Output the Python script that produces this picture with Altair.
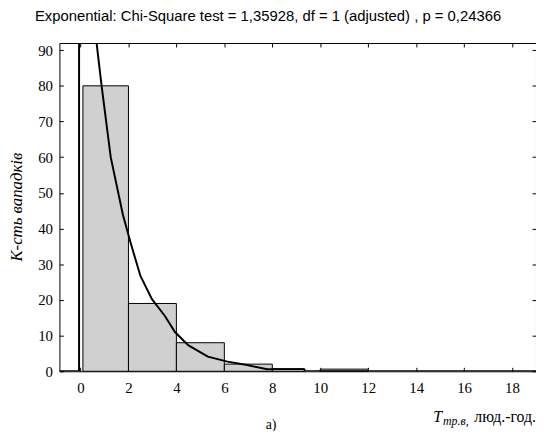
import altair as alt
import pandas as pd

# ---- data ----
bin_start = [0.1, 2, 4, 6, 8, 10]
bin_end = [2, 4, 6, 8, 9.35, 12]
counts = [80, 19, 8, 2, 0.7, 0.6]

curve_x = [-0.9, -0.06, -0.06, 0.67, 0.88, 1.26, 1.77, 2.09, 2.5, 2.98, 3.52, 3.94,
           4.49, 5.31, 6.13, 6.95, 7.78, 8.1, 9.3, 9.4, 19]
curve_y = [0, 0, 125, 92, 80, 60, 43.8, 36, 26.7, 20.2, 15.5, 11.0,
           7.3, 4.1, 2.7, 1.75, 0.55, 0.6, 0.6, 0, 0]

x_ticks = [0, 2, 4, 6, 8, 10, 12, 14, 16, 18]
y_ticks = [0, 10, 20, 30, 40, 50, 60, 70, 80, 90]

title_text = "Exponential: Chi-Square test = 1,35928, df = 1 (adjusted) , p = 0,24366"
y_title = "К-сть вападків"
x_title_main = "T"
x_title_sub = "тр.в,"
x_title_unit = "люд.-год."
panel_label = "а)"

X_DOMAIN = [-0.88, 19]
Y_DOMAIN = [0, 92]
W, H = 482, 332
SERIF = "Liberation Serif, Times New Roman, DejaVu Serif, serif"
SANS = "Liberation Sans, Arial, sans-serif"

bars_df = pd.DataFrame({"start": bin_start, "end": bin_end, "count": counts})
curve_df = pd.DataFrame({"x": curve_x, "y": curve_y, "i": list(range(len(curve_x)))})


def xsc():
    return alt.Scale(domain=X_DOMAIN, nice=False, zero=False)


def ysc():
    return alt.Scale(domain=Y_DOMAIN, nice=False, zero=False)


tick_axis = dict(labels=False, domain=False, grid=False, tickSize=4,
                 tickColor="black", tickWidth=1, title=None)

bars = alt.Chart(bars_df).mark_rect(fill="#d0d0d0", stroke="black", strokeWidth=1).encode(
    x=alt.X("start:Q", scale=xsc(), axis=alt.Axis(
        orient="bottom", values=x_ticks, ticks=False, tickSize=0, domain=False, grid=False,
        labelPadding=9, labelFont=SERIF, labelFontSize=15, labelColor="black", title=None)),
    x2="end:Q",
    y=alt.Y("count:Q", scale=ysc(), axis=alt.Axis(
        orient="left", values=y_ticks, ticks=False, tickSize=0, domain=False, grid=False,
        labelPadding=7, labelFont=SERIF, labelFontSize=15, labelColor="black", title=None)),
    y2=alt.datum(0),
)

line = alt.Chart(curve_df).mark_line(color="black", strokeWidth=2, clip=True).encode(
    x=alt.X("x:Q", scale=xsc(), axis=alt.Axis(orient="top", offset=-H, values=x_ticks, **tick_axis)),
    y=alt.Y("y:Q", scale=ysc(), axis=alt.Axis(orient="right", offset=-W, values=y_ticks, **tick_axis)),
    order="i:Q",
)

ghost = alt.Chart(curve_df).mark_line(opacity=0, clip=True).encode(
    x=alt.X("x:Q", scale=xsc(), axis=alt.Axis(orient="bottom", offset=-H, values=x_ticks, **tick_axis)),
    y=alt.Y("y:Q", scale=ysc(), axis=alt.Axis(orient="left", offset=-W, values=y_ticks, **tick_axis)),
    order="i:Q",
)


def label(text, x, y, **kw):
    return alt.Chart(pd.DataFrame({"t": [text]})).mark_text(color="black", **kw).encode(
        text="t:N", x=alt.value(x), y=alt.value(y))


t_title = label(title_text, 211, -27, font=SANS, fontSize=15, align="center", baseline="middle")
t_ytitle = label(y_title, -43, 166, font=SERIF, fontSize=17, fontStyle="italic",
                 angle=270, align="center", baseline="middle")
t_T = label(x_title_main, 378, 383, font=SERIF, fontSize=16, fontStyle="italic",
            align="left", baseline="alphabetic")
t_sub = label(x_title_sub, 388, 386, font=SERIF, fontSize=12, fontStyle="italic",
              align="left", baseline="alphabetic")
t_unit = label(x_title_unit, 482, 383, font=SERIF, fontSize=16,
               align="right", baseline="alphabetic")
t_panel = label(panel_label, 214, 390, font=SERIF, fontSize=14,
                align="center", baseline="alphabetic")

chart = alt.layer(
    bars, line, ghost, t_title, t_ytitle, t_T, t_sub, t_unit, t_panel
).resolve_scale(
    x="independent", y="independent"
).properties(
    width=W, height=H,
    padding={"left": 52, "top": 33, "right": 0, "bottom": 58},
    autosize=alt.AutoSizeParams(type="none"),
).configure_view(stroke="black", strokeWidth=1)

chart.save("out.html", embed_options={"renderer": "svg", "actions": False})
